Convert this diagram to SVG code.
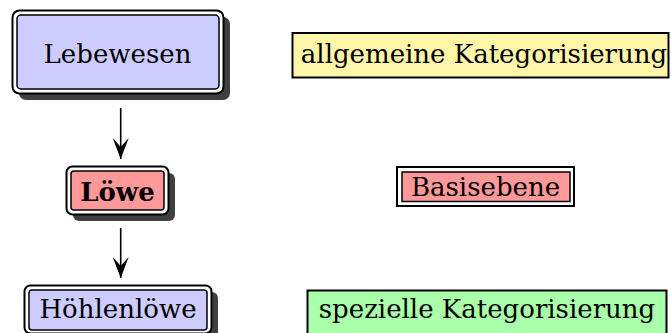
<svg xmlns="http://www.w3.org/2000/svg" width="672" height="333" viewBox="0 0 672 333">
<defs>
<style>
text{font-family:"DejaVu Serif","Liberation Serif",serif;font-size:26px;fill:#000;text-anchor:middle}
.shadow{fill:#404040;stroke:none}
.outer{fill:#fff;stroke:#000;stroke-width:2}
.inner{stroke:#000;stroke-width:1.5}
.blue{fill:#ccccff}
.red{fill:#ff9999}
.yellow{fill:#fff6aa}
.green{fill:#aaffaa}
.edge{stroke:#000;stroke-width:1.6;fill:none}
</style>
<marker id="arr" viewBox="0 0 22 16" refX="21" refY="8" markerWidth="22" markerHeight="16" markerUnits="userSpaceOnUse" orient="auto">
<path d="M21,8 L0,0 L9,8 L0,16 Z" fill="#000"/>
</marker>
</defs>
<rect width="672" height="333" fill="#fff"/>
<g id="lebewesen">
<rect class="shadow" x="19" y="17" width="211" height="83" rx="7"/>
<rect class="outer" x="12.5" y="10.5" width="211" height="83" rx="7"/>
<rect class="inner blue" x="17" y="15" width="202" height="74" rx="4"/>
<text x="117.5" y="63">Lebewesen</text>
</g>
<g id="loewe">
<rect class="shadow" x="73" y="173" width="102" height="48" rx="6"/>
<rect class="outer" x="66.5" y="166.5" width="102" height="48" rx="6"/>
<rect class="inner red" x="71" y="171" width="93" height="39" rx="3"/>
<text x="117.5" y="201" font-weight="bold">Löwe</text>
</g>
<g id="hoehlenloewe">
<rect class="shadow" x="31" y="292" width="187" height="48" rx="6"/>
<rect class="outer" x="24.5" y="285.5" width="187" height="48" rx="6"/>
<rect class="inner blue" x="29" y="290" width="178" height="40" rx="3"/>
<text x="118" y="318">Höhlenlöwe</text>
</g>
<g id="allgemeine">
<rect class="yellow" x="292.5" y="33" width="376" height="44.5" stroke="#000" stroke-width="2"/>
<text x="484" y="63">allgemeine Kategorisierung</text>
</g>
<g id="basisebene">
<rect x="397" y="167" width="177" height="39" fill="#fff" stroke="#000" stroke-width="2"/>
<rect class="red" x="402" y="172" width="168" height="29.5" stroke="#000" stroke-width="1.5"/>
<text x="485.5" y="196">Basisebene</text>
</g>
<g id="spezielle">
<rect class="green" x="307.5" y="290.5" width="359" height="50" stroke="#000" stroke-width="2"/>
<text x="487" y="318">spezielle Kategorisierung</text>
</g>
<g id="connectors">
<line class="edge" x1="120.7" y1="108" x2="120.7" y2="159" marker-end="url(#arr)"/>
<line class="edge" x1="120.7" y1="228" x2="120.7" y2="278" marker-end="url(#arr)"/>
</g>
</svg>
